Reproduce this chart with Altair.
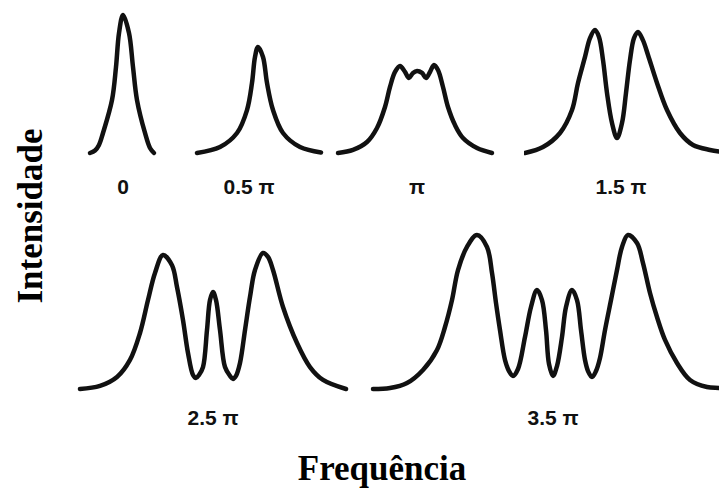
import altair as alt
import pandas as pd

# ---- spectra (frequency offset in arb. units, intensity in a.u.) ----
f_0 = [-3.3, -2.8, -2.4, -2.0, -1.1, -0.7, -0.4, 0.0, 0.6, 1.0, 1.4, 2.2, 2.7, 3.1]
i_0 = [0, 1.8, 5.8, 14.4, 38.1, 61.9, 86.3, 99.3, 86.3, 61.9, 38.1, 14.4, 3.6, 0]

f_05 = [-5.2, -2.9, -1.2, -0.2, 0.3, 0.6, 0.9, 1.4, 1.8, 2.4, 3.4, 5.1, 7.2]
i_05 = [0, 4.3, 14.4, 30.9, 50.4, 69.1, 76.3, 69.1, 50.4, 30.9, 14.4, 4.3, 0.4]

f_1 = [-7.7, -6.2, -4.8, -3.8, -3.0, -2.5, -2.0, -1.5, -1.0, -0.6, -0.2, 0.2, 0.7,
       1.1, 1.5, 1.9, 2.3, 2.8, 3.3, 4.0, 4.8, 6.2, 7.7]
i_1 = [0, 2.2, 7.9, 18.0, 33.1, 47.5, 58.3, 62.6, 58.3, 54.0, 57.6, 59.0, 57.6,
       54.0, 58.3, 63.3, 59.7, 47.5, 33.1, 20.1, 10.8, 3.6, 0]

f_15 = [-9.2, -7.4, -5.7, -4.5, -3.9, -3.2, -2.7, -2.2, -1.8, -1.4, -1.0, -0.5, 0.0,
        0.5, 0.9, 1.3, 1.7, 2.1, 2.6, 3.1, 4.0, 5.0, 6.3, 7.6, 9.3, 10.2]
i_15 = [0, 4.3, 14.4, 30.9, 50.4, 69.1, 82.7, 88.5, 83.5, 66.9, 43.2, 21.6, 10.8,
        21.6, 43.2, 66.9, 82.7, 87.1, 81.0, 70.5, 50.4, 30.9, 14.4, 5.8, 2.2, 1.1]

f_25 = [-13.3, -11.3, -9.6, -8.3, -7.3, -6.5, -5.8, -5.0, -4.1, -3.6, -3.0, -2.5, -2.0,
        -1.7, -1.4, -1.0, -0.6, -0.3, 0.0, 0.3, 0.7, 1.2, 1.7, 2.0, 2.3, 2.7, 3.2, 3.7,
        4.2, 5.0, 5.5, 6.0, 7.0, 8.4, 9.7, 11.0, 13.3]
i_25 = [0, 2.2, 8.6, 20.9, 40.3, 64.0, 83.5, 96.4, 89.0, 73.4, 49.6, 25.9, 10.1,
        7.9, 10.1, 15.8, 42.4, 64.0, 69.8, 64.0, 42.4, 15.8, 9.4, 7.2, 9.4, 18.7, 42.4, 66.2,
        85.6, 97.8, 95.0, 85.6, 59.0, 33.1, 15.8, 6.5, 0]

f_35 = [-18.0, -16.3, -14.6, -13.0, -11.6, -10.8, -10.1, -9.5, -8.6, -7.6, -6.6, -6.1,
        -5.7, -5.3, -4.8, -4.4, -4.0, -3.5, -2.8, -2.2, -1.6, -1.1, -0.7, -0.4, 0.0,
        0.4, 0.9, 1.3, 1.9, 2.4, 2.8, 3.2, 3.5, 3.9, 4.3, 4.7, 5.2, 5.8, 6.4, 6.9, 7.5,
        8.4, 9.0, 9.7, 10.4, 11.2, 12.4, 13.7, 15.4, 16.6, 18.2]
i_35 = [0, 0.7, 4.3, 13.7, 28.1, 44.6, 64.0, 85.6, 102.2, 110.8, 102.2, 83.5,
        61.9, 42.4, 20.9, 12.9, 9.4, 14.4, 37.4, 59.0, 71.2, 64.0, 42.4, 18.0, 9.4,
        16.5, 37.4, 59.0, 71.2, 64.0, 42.4, 20.9, 12.9, 8.6, 12.9, 22.3, 42.4, 64.0, 85.6, 102.2, 110.8,
        105.0, 90.6, 69.1, 51.8, 35.3, 18.7, 6.5, 1.4, 0.7, 0]

labels = ["0", "0.5 π", "π", "1.5 π", "2.5 π", "3.5 π"]
y_title = "Intensidade"
x_title = "Frequência"

# ---- styling / layout ----
PX_PER_UNIT = 10
INK = "#111111"
TOP_Y = [-33.81, 110.07]
BOT_Y = [-29.5, 135.97]


def panel(f, i, label, lo, hi, ydom, h, label_y, label_dx=0.0, clip=False):
    w = int(round((hi - lo) * PX_PER_UNIT))
    xs = alt.Scale(domain=[lo, hi], nice=False, zero=False)
    ys = alt.Scale(domain=ydom, nice=False, zero=False)
    line = alt.Chart(pd.DataFrame({"f": f, "i": i})).mark_line(
        color=INK, strokeWidth=4.5, interpolate="catmull-rom",
        strokeCap="round", strokeJoin="round", clip=clip,
    ).encode(
        x=alt.X("f:Q", scale=xs, axis=None),
        y=alt.Y("i:Q", scale=ys, axis=None),
    )
    txt = alt.Chart(pd.DataFrame({"lab": [label]})).mark_text(
        font="Liberation Sans", fontWeight="bold", fontSize=21,
        baseline="alphabetic", align="center", color=INK,
    ).encode(
        text="lab:N",
        x=alt.datum(label_dx),
        y=alt.value(label_y),
    )
    return alt.layer(line, txt).properties(width=w, height=h)


p1 = panel(f_0, i_0, labels[0], -6.5, 6.5, TOP_Y, 200, 194)
p2 = panel(f_05, i_05, labels[1], -6.1, 6.1, TOP_Y, 200, 194)
p3 = panel(f_1, i_1, labels[2], -10.5, 10.9, TOP_Y, 200, 194, 0.2)
p4 = panel(f_15, i_15, labels[3], -9.3, 10.2, TOP_Y, 200, 194, 0.4, clip=True)
p5 = panel(f_25, i_25, labels[4], -15.5, 15.5, BOT_Y, 230, 225)
p6 = panel(f_35, i_35, labels[5], -18.5, 16.6, BOT_Y, 230, 225, clip=True)

row1 = alt.hconcat(p1, p2, p3, p4, spacing=0, bounds="flush")
row2 = alt.hconcat(p5, p6, spacing=0, bounds="flush")

footer = alt.Chart(pd.DataFrame({"t": [x_title]})).mark_text(
    font="Liberation Serif", fontWeight="bold", fontSize=35,
    baseline="alphabetic", align="center", color="black",
).encode(text="t:N", x=alt.value(324), y=alt.value(50)).properties(width=661, height=60)

right = alt.vconcat(row1, row2, footer, spacing=0)

left = alt.Chart(pd.DataFrame({"t": [y_title]})).mark_text(
    font="Liberation Serif", fontWeight="bold", fontSize=35, angle=270,
    baseline="alphabetic", align="center", color="black",
).encode(text="t:N", x=alt.value(42), y=alt.value(216)).properties(width=58, height=490)

chart = alt.hconcat(left, right, spacing=0).properties(
    padding=0, background="white"
).configure_view(strokeWidth=0)

chart.save("out.html", embed_options={"renderer": "svg", "actions": False})
